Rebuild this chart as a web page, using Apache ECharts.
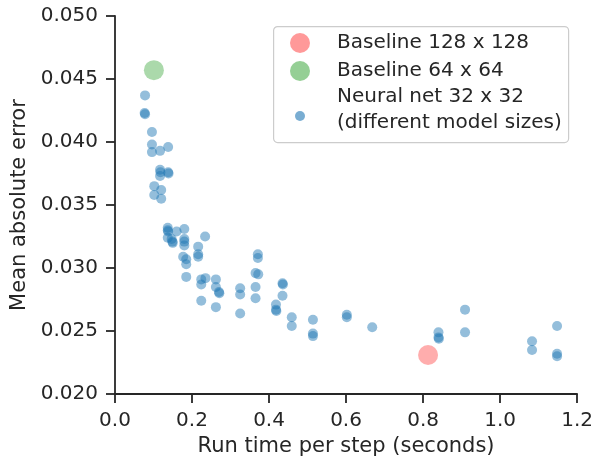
<!DOCTYPE html>
<html>
<head>
<meta charset="utf-8">
<script src="https://cdn.jsdelivr.net/npm/echarts@6/dist/echarts.min.js"></script>
<style>html,body{margin:0;padding:0;background:#fff}#c{width:596px;height:462px}</style>
</head>
<body>
<div id="c"></div>
<script>
// Neural net 32 x 32 (different model sizes)
const nnTime = [0.078,0.077,0.078,0.096,0.096,0.096,0.117,0.138,0.117,0.118,0.138,0.139,0.117,0.102,0.120,0.102,0.120,
  0.137,0.137,0.138,0.160,0.180,0.137,0.147,0.149,0.150,0.180,0.180,0.180,0.234,0.216,0.216,0.216,0.177,0.185,0.185,0.185,
  0.224,0.235,0.224,0.262,0.262,0.270,0.271,0.224,0.262,0.325,0.325,0.325,0.371,0.371,0.365,0.372,0.365,0.365,
  0.435,0.436,0.435,0.418,0.418,0.419,0.459,0.459,0.514,0.514,0.514,0.602,0.602,0.668,0.909,0.840,0.840,0.841,0.909,
  1.083,1.083,1.148,1.148,1.148];
const nnError = [0.0437,0.0423,0.0422,0.0408,0.0398,0.0392,0.0393,0.0396,0.0378,0.0376,0.0376,0.0375,0.0373,0.0365,0.0362,0.0358,0.0355,
  0.0332,0.0330,0.0329,0.0329,0.0331,0.0324,0.0323,0.0321,0.0320,0.0323,0.0321,0.0318,0.0325,0.0317,0.0311,0.0309,0.0309,0.0307,0.0303,0.0293,
  0.0291,0.0292,0.0287,0.0291,0.0285,0.0281,0.0280,0.0274,0.0269,0.0284,0.0279,0.0264,0.0311,0.0308,0.0296,0.0295,0.0285,0.0276,
  0.0288,0.0287,0.0278,0.0271,0.0267,0.0266,0.0261,0.0254,0.0259,0.0248,0.0246,0.0263,0.0261,0.0253,0.0267,0.0249,0.0245,0.0244,0.0249,
  0.0242,0.0235,0.0254,0.0232,0.0230];
// Baselines
const base128 = [0.813, 0.0231];
const base64 = [0.101, 0.0457];
const xTicks = {min: 0, max: 1.2, interval: 0.2};
const yTicks = {min: 0.020, max: 0.050, interval: 0.005};
const labels = ['Baseline 128 x 128', 'Baseline 64 x 64', 'Neural net 32 x 32\n(different model sizes)'];

const txt = '#262626';
const font = 'DejaVu Sans';
const chart = echarts.init(document.getElementById('c'), null, {renderer: 'canvas'});
chart.setOption({
  animation: false,
  backgroundColor: '#fff',
  grid: {left: 115, right: 17, top: 16, bottom: 66, containLabel: false},
  xAxis: {
    type: 'value', min: xTicks.min, max: xTicks.max, interval: xTicks.interval,
    name: 'Run time per step (seconds)', nameLocation: 'middle', nameGap: 41,
    nameTextStyle: {color: txt, fontFamily: font, fontSize: 21},
    axisLine: {show: true, onZero: false, lineStyle: {color: txt, width: 1.8}},
    axisTick: {show: true, inside: false, length: 9, lineStyle: {color: txt, width: 1.8}},
    axisLabel: {color: txt, fontFamily: font, fontSize: 20, margin: 17, formatter: v => v.toFixed(1)},
    splitLine: {show: false}
  },
  yAxis: {
    type: 'value', min: yTicks.min, max: yTicks.max, interval: yTicks.interval,
    name: 'Mean absolute error', nameLocation: 'middle', nameGap: 83,
    nameTextStyle: {color: txt, fontFamily: font, fontSize: 21},
    axisLine: {show: true, onZero: false, lineStyle: {color: txt, width: 1.8}},
    axisTick: {show: true, inside: false, length: 9, lineStyle: {color: txt, width: 1.8}},
    axisLabel: {color: txt, fontFamily: font, fontSize: 20, margin: 17, formatter: v => v.toFixed(3)},
    splitLine: {show: false}
  },
  series: [
    {name: labels[0], type: 'scatter', symbolSize: 20, data: [base128],
     itemStyle: {color: 'rgba(255,0,0,0.4)'}},
    {name: labels[1], type: 'scatter', symbolSize: 20, data: [base64],
     itemStyle: {color: 'rgba(44,160,44,0.5)'}},
    {name: labels[2], type: 'scatter', symbolSize: 10, data: nnTime.map((t, i) => [t, nnError[i]]),
     itemStyle: {color: 'rgba(31,119,180,0.6)'}}
  ],
  graphic: [
    {type: 'rect', left: 273, top: 26, shape: {width: 295, height: 116, r: 4},
     style: {fill: 'rgba(255,255,255,0.8)', stroke: '#cccccc', lineWidth: 1.2}, z: 10},
    {type: 'circle', shape: {cx: 300, cy: 43, r: 10}, style: {fill: 'rgba(255,0,0,0.4)'}, z: 11},
    {type: 'circle', shape: {cx: 300, cy: 71, r: 10}, style: {fill: 'rgba(44,160,44,0.5)'}, z: 11},
    {type: 'circle', shape: {cx: 300, cy: 116, r: 5}, style: {fill: 'rgba(31,119,180,0.6)'}, z: 11},
    {type: 'text', x: 337, y: 43, style: {text: labels[0], fill: txt, font: '20px "DejaVu Sans"', verticalAlign: 'middle'}, z: 11},
    {type: 'text', x: 337, y: 71, style: {text: labels[1], fill: txt, font: '20px "DejaVu Sans"', verticalAlign: 'middle'}, z: 11},
    {type: 'text', x: 337, y: 110, style: {text: labels[2], fill: txt, font: '20px "DejaVu Sans"', verticalAlign: 'middle', lineHeight: 26}, z: 11}
  ]
});
</script>
</body>
</html>
